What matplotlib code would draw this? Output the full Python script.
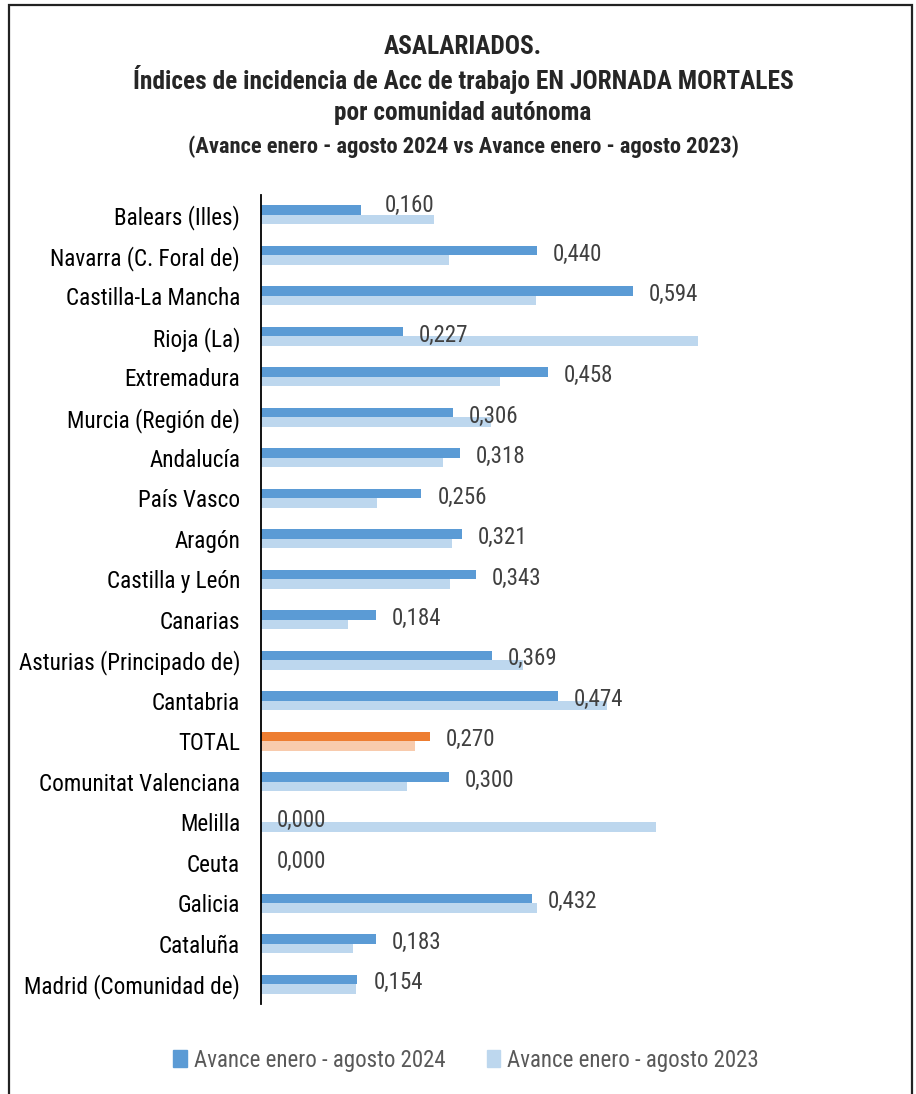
import matplotlib
matplotlib.use("Agg")
import matplotlib.pyplot as plt
from matplotlib import font_manager
from matplotlib.font_manager import FontProperties
from matplotlib.patches import Rectangle

# ---------------- data ----------------
categories = [
    "Balears (Illes)", "Navarra (C. Foral de)", "Castilla-La Mancha", "Rioja (La)",
    "Extremadura", "Murcia (Región de)", "Andalucía", "País Vasco", "Aragón",
    "Castilla y León", "Canarias", "Asturias (Principado de)", "Cantabria", "TOTAL",
    "Comunitat Valenciana", "Melilla", "Ceuta", "Galicia", "Cataluña",
    "Madrid (Comunidad de)",
]
values_2024 = [0.160, 0.440, 0.594, 0.227, 0.458, 0.306, 0.318, 0.256, 0.321,
               0.343, 0.184, 0.369, 0.474, 0.270, 0.300, 0.000, 0.000, 0.432,
               0.183, 0.154]
values_2023 = [0.276, 0.300, 0.439, 0.698, 0.382, 0.367, 0.290, 0.185, 0.305,
               0.302, 0.139, 0.419, 0.552, 0.246, 0.233, 0.631, 0.000, 0.441,
               0.147, 0.152]
series_names = ["Avance enero - agosto 2024", "Avance enero - agosto 2023"]
title_lines = [
    "ASALARIADOS.",
    "Índices de incidencia de Acc de trabajo EN JORNADA MORTALES",
    "por comunidad autónoma",
    "(Avance enero - agosto 2024 vs Avance enero - agosto 2023)",
]
highlight = "TOTAL"

# ---------------- fonts: prefer a narrow / condensed sans ----------------
entries = font_manager.fontManager.ttflist
names = {f.name for f in entries}
cond = {(f.name) for f in entries if str(f.stretch) in ("condensed", "semi-condensed", "extra-condensed")}
family, stretch = "Open Sans", "normal"
for nm in ["Liberation Sans Narrow", "Roboto Condensed", "Open Sans Condensed", "Noto Sans Condensed"]:
    if nm in names:
        family, stretch = nm, "normal"
        break
else:
    for nm in ["Noto Sans", "Open Sans", "Roboto", "DejaVu Sans"]:
        if nm in cond:
            family, stretch = nm, "condensed"
            break
plt.rcParams["font.family"] = [family, "DejaVu Sans"]


def fp(weight="normal", size=None):
    return FontProperties(family=[family, "DejaVu Sans"], stretch=stretch, weight=weight, size=size)


C_DARK = "#5B9BD5"
C_LIGHT = "#BDD7EE"
C_ORANGE = "#ED7D31"
C_ORANGE_L = "#F8CBAD"

W, H = 916, 1094
fig = plt.figure(figsize=(W / 100, H / 100), dpi=100)
renderer = fig.canvas.get_renderer()


def fit_size(text, target_px, weight="normal", maxsize=22):
    t = fig.text(0, 0, text, fontproperties=fp(weight), fontsize=10)
    w = t.get_window_extent(renderer).width
    t.remove()
    return min(maxsize, 10 * target_px / w)


s_tick = fit_size("Madrid (Comunidad de)", 215)
s_val = fit_size("0,000", 49)
s_t1 = fit_size(title_lines[1], 663, "bold")
s_t4 = fit_size(title_lines[3], 551, "bold")
s_leg = fit_size(series_names[0], 250)

# axes placement (pixel based)
left_px, right_px = 261, 762
top_px, bot_px = 194.7, 1004.3
ax = fig.add_axes([left_px / W, 1 - bot_px / H, (right_px - left_px) / W, (bot_px - top_px) / H])

n = len(categories)
ys = list(range(n))
bh = 0.235
c24 = [C_ORANGE if c == highlight else C_DARK for c in categories]
c23 = [C_ORANGE_L if c == highlight else C_LIGHT for c in categories]
ax.barh([y - bh / 2 for y in ys], values_2024, height=bh, color=c24, label=series_names[0])
ax.barh([y + bh / 2 for y in ys], values_2023, height=bh, color=c23, label=series_names[1])

ax.set_xlim(0, 0.8)
ax.set_ylim(n - 0.5, -0.5)
ax.set_yticks(ys)
ax.set_yticklabels(categories, fontproperties=fp(), fontsize=s_tick, color="#000000")
ax.tick_params(axis="y", length=0, pad=15)
ax.set_xticks([])
for s in ["top", "right", "bottom"]:
    ax.spines[s].set_visible(False)
ax.spines["left"].set_color("#000000")
ax.spines["left"].set_linewidth(1.3)

# data labels
for i, v in enumerate(values_2024):
    dx, dy = 11.5, -2.5
    if i == 0:
        dx, dy = 17.0, 3.5
    ax.annotate(f"{v:.3f}".replace(".", ","), xy=(v, i - bh / 2), xytext=(dx, dy),
                textcoords="offset points", ha="left", va="center",
                fontproperties=fp(), fontsize=s_val, color="#404040")

# title
ty = [47, 80, 113, 147]
ts = [s_t1, s_t1, s_t1, s_t4]
for line, y, s in zip(title_lines, ty, ts):
    fig.text(463 / W, 1 - y / H, line, ha="center", va="center", fontproperties=fp("bold"),
             fontsize=s, color="#262626")

# legend
handles = [Rectangle((0, 0), 1, 1, color=C_DARK), Rectangle((0, 0), 1, 1, color=C_LIGHT)]
fig.legend(handles, series_names, loc="center", bbox_to_anchor=(466 / W, 1 - 1060 / H),
           ncol=2, frameon=False, prop=fp(size=s_leg), handlelength=0.6, handleheight=0.7,
           handletextpad=0.3, columnspacing=1.8, labelcolor="#595959")

# outer border
fig.patches.append(Rectangle((9 / W, -0.05), (912 - 9) / W, 1.05 - 5 / H,
                             transform=fig.transFigure, fill=False,
                             edgecolor="#222222", linewidth=1.6))

fig.savefig("out.png", dpi=100)
